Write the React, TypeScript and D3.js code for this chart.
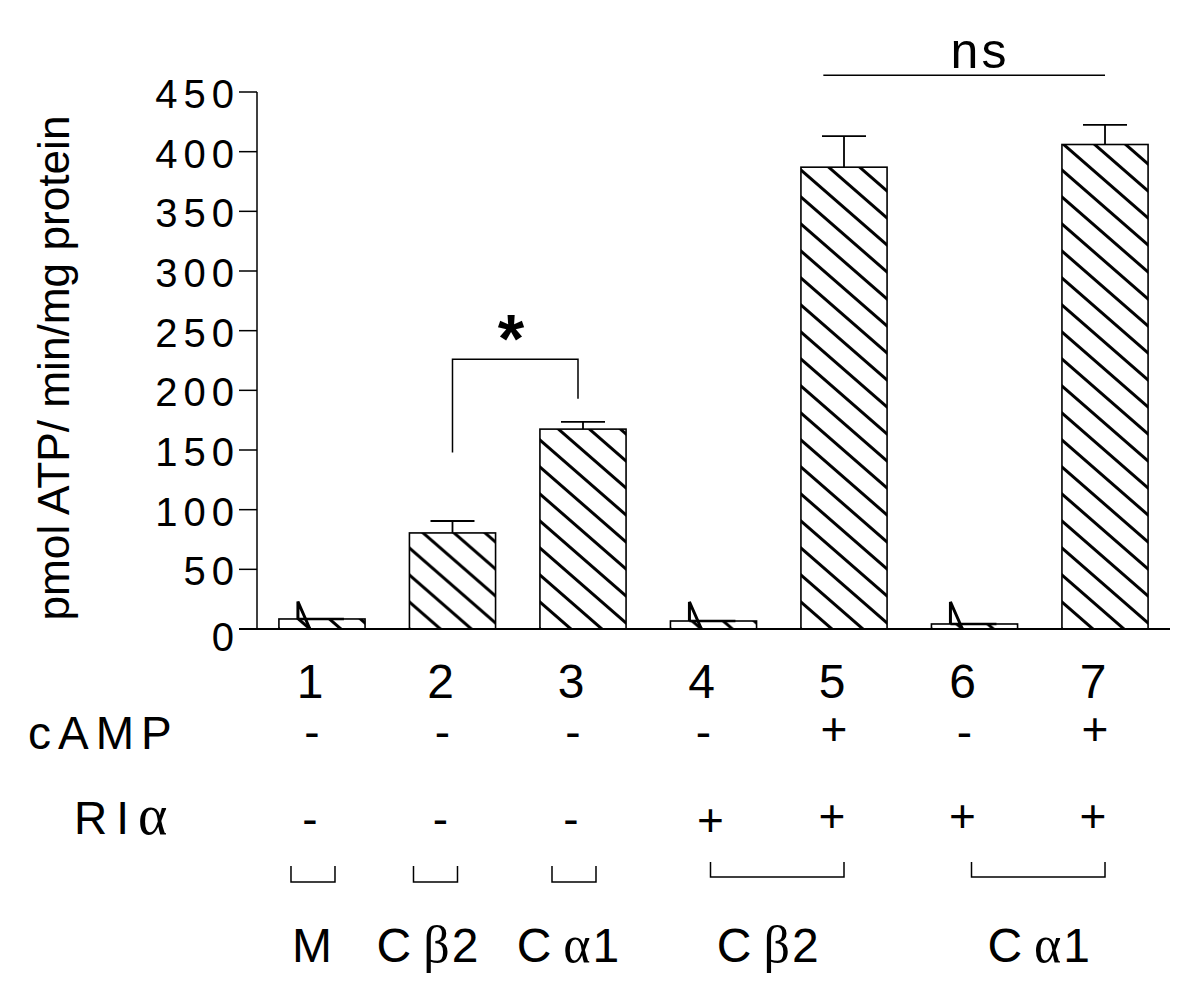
import * as d3 from "d3";

const categories = ["1", "2", "3", "4", "5", "6", "7"];
const values = [8.4, 80.5, 167.5, 6.7, 387, 4.2, 406];
const errors = [14.6, 10, 6, 16, 26, 18.5, 16.5];
const yTicks = [0, 50, 100, 150, 200, 250, 300, 350, 400, 450];
const campSigns = ["-", "-", "-", "-", "+", "-", "+"];
const riaSigns = ["-", "-", "-", "+", "+", "+", "+"];
const groupLatin = ["M", "C", "C", "C", "C"];
const groupGreek = ["", "β", "α", "β", "α"];
const groupSuffix = ["", "2", "1", "2", "1"];
const groupFrom = [0, 1, 2, 3, 5];
const groupTo = [0, 1, 2, 4, 6];

const FONT = "'Liberation Sans', Arial, Helvetica, sans-serif";
const GREEK = "'Liberation Serif', 'Times New Roman', serif";

export default function App() {
  const x = d3.scaleBand().domain(categories).range([257, 1170]).paddingInner(0.34).paddingOuter(0.168);
  const y = d3.scaleLinear().domain([0, 450]).range([629, 92]);
  const bw = x.bandwidth();
  const cx = (i: number) => (x(categories[i]) as number) + bw / 2;
  const y0 = y(0);
  // nudges so labels sit where the original figure put them
  const labelShift = [-10, -24, -14, -10, 0];
  const bracketShift = [0, -8, 0, 0, 0];

  return (
    <svg width={1200} height={1000} style={{ position: "absolute", left: 0, top: 0, background: "#fff" }} fontFamily={FONT}>
      <defs>
        {categories.map((c, i) => (
          <pattern key={c} id={`hatch-${i}`} patternUnits="userSpaceOnUse" x={x(c)} y={y0} width={31} height={27}>
            <path d="M0,0L31,27M-4,23.5L4,30.5M27,-3.5L35,3.5" stroke="#000" strokeWidth={3} />
          </pattern>
        ))}
      </defs>

      {/* y axis */}
      <line x1={257} x2={257} y1={y(450)} y2={y0} stroke="#000" strokeWidth={1.5} />
      {yTicks.map((t) => (
        <g key={t}>
          <line x1={239} x2={257} y1={y(t)} y2={y(t)} stroke="#000" strokeWidth={1.5} />
          <text x={240} y={y(t)} dy={t === 0 ? "0.55em" : "0.4em"} textAnchor="end" fontSize={40} letterSpacing={6}>{t}</text>
        </g>
      ))}
      <text transform={`translate(69,368) rotate(-90)`} textAnchor="middle" fontSize={44} textLength={505} lengthAdjust="spacingAndGlyphs">
        pmol ATP/ min/mg protein
      </text>

      {/* bars */}
      {categories.map((c, i) => {
        const bx = x(c) as number;
        const top = y(values[i]);
        const small = values[i] < 20;
        return (
          <g key={c}>
            <rect x={bx} y={top} width={bw} height={y0 - top} fill={`url(#hatch-${i})`} stroke="#000" strokeWidth={1.6} />
            {small ? (
              <g stroke="#000" fill="none">
                <path d={`M${bx + 19},${top}L${bx + 19},${y(values[i] + errors[i])}L${bx + 31},${y0}`} strokeWidth={3} />
                <line x1={bx + 19} x2={bx + 65} y1={top} y2={top} strokeWidth={2.4} />
              </g>
            ) : (
              <g stroke="#000" strokeWidth={1.8}>
                <line x1={cx(i)} x2={cx(i)} y1={top} y2={y(values[i] + errors[i])} />
                <line x1={cx(i) - 22} x2={cx(i) + 22} y1={y(values[i] + errors[i])} y2={y(values[i] + errors[i])} />
              </g>
            )}
          </g>
        );
      })}
      {/* baseline */}
      <line x1={239} x2={1170} y1={y0} y2={y0} stroke="#000" strokeWidth={1.8} />

      {/* significance */}
      <g stroke="#000" strokeWidth={1.5} fill="none">
        <path d={`M${cx(1)},${y(148)}L${cx(1)},${y(226)}L${cx(2) - 5},${y(226)}L${cx(2) - 5},${y(193)}`} />
        <line x1={x("5")! + bw * 0.26} x2={cx(6)} y1={y(464)} y2={y(464)} />
      </g>
      <text x={511} y={362} textAnchor="middle" fontSize={68} fontWeight="bold">*</text>
      <text x={980} y={68} textAnchor="middle" fontSize={50} letterSpacing={3}>ns</text>

      {/* condition rows */}
      {categories.map((c, i) => (
        <g key={c}>
          <text x={cx(i) - 12} y={698} textAnchor="middle" fontSize={48}>{c}</text>
          <text x={cx(i) - 10} y={campSigns[i] === "+" ? 745 : 748} textAnchor="middle" fontSize={46}>{campSigns[i]}</text>
          <text x={cx(i) - (riaSigns[i] === "+" && i === 3 ? 3 : 12)} y={riaSigns[i] === "+" ? (i === 3 ? 836 : 832) : 835} textAnchor="middle" fontSize={46}>{riaSigns[i]}</text>
        </g>
      ))}
      <text x={28} y={749} fontSize={46} letterSpacing={7}>cAMP</text>
      <text x={74} y={834} fontSize={46} letterSpacing={9}>
        RI<tspan fontFamily={GREEK} fontSize={56}>α</tspan>
      </text>

      {/* groups */}
      {groupLatin.map((g, k) => {
        const single = groupFrom[k] === groupTo[k];
        const a = (single ? cx(groupFrom[k]) - 31 : cx(groupFrom[k]) - 3) + bracketShift[k];
        const b = (single ? cx(groupFrom[k]) + 13 : cx(groupTo[k])) + bracketShift[k];
        const top = single ? 866 : 862;
        const bot = single ? 882 : 877;
        const mid = (cx(groupFrom[k]) + cx(groupTo[k])) / 2 + labelShift[k];
        return (
          <g key={k}>
            <path d={`M${a},${top}L${a},${bot}L${b},${bot}L${b},${top}`} stroke="#000" strokeWidth={1.5} fill="none" />
            <text x={mid} y={962} textAnchor="middle" fontSize={48} letterSpacing={k === 0 ? 0 : 2}>
              {g}
              {groupGreek[k] && <tspan dx={10} fontFamily={GREEK} fontSize={52}>{groupGreek[k]}</tspan>}
              {groupSuffix[k]}
            </text>
          </g>
        );
      })}
    </svg>
  );
}
